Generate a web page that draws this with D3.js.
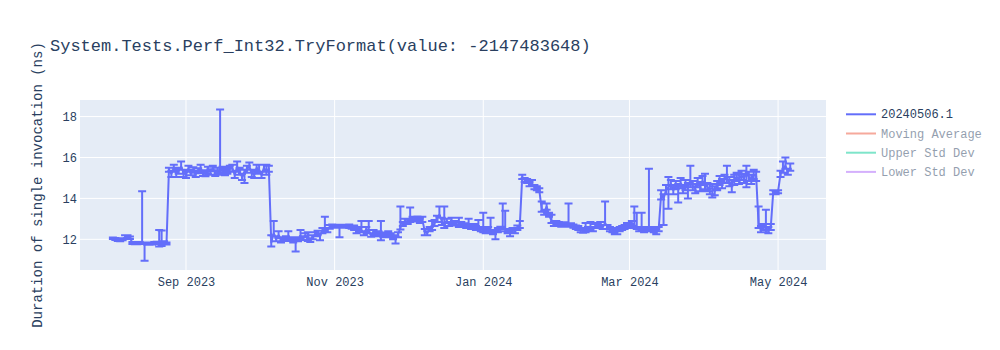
<!DOCTYPE html>
<html>
<head>
<meta charset="utf-8">
<script src="https://cdn.jsdelivr.net/npm/d3@7"></script>
<style>
body{margin:0;background:#fff}
svg{display:block}
text{font-family:"Liberation Mono","Courier New",monospace}
</style>
</head>
<body>
<svg id="chart" width="1000" height="350"></svg>
<script>
// ---------------- data ----------------
const chartTitle = "System.Tests.Perf_Int32.TryFormat(value: -2147483648)";
const yAxisTitle = "Duration of single invocation (ns)";

const dates = [
"2023-08-02","2023-08-03","2023-08-04","2023-08-05","2023-08-06","2023-08-07","2023-08-08","2023-08-09","2023-08-10","2023-08-11","2023-08-12","2023-08-13","2023-08-14","2023-08-15","2023-08-16","2023-08-17","2023-08-18","2023-08-19","2023-08-20","2023-08-21","2023-08-22","2023-08-23","2023-08-24","2023-08-25","2023-08-26","2023-08-27","2023-08-28","2023-08-29","2023-08-30","2023-08-31",
"2023-09-01","2023-09-02","2023-09-03","2023-09-04","2023-09-05","2023-09-06","2023-09-07","2023-09-08","2023-09-09","2023-09-10","2023-09-11","2023-09-12","2023-09-13","2023-09-14","2023-09-15","2023-09-16","2023-09-17","2023-09-18","2023-09-19","2023-09-20","2023-09-21","2023-09-22","2023-09-23","2023-09-24","2023-09-25","2023-09-26","2023-09-27","2023-09-28","2023-09-29","2023-09-30",
"2023-10-01","2023-10-02","2023-10-03","2023-10-04","2023-10-05","2023-10-06","2023-10-07","2023-10-08","2023-10-09","2023-10-10","2023-10-11","2023-10-12","2023-10-13","2023-10-14","2023-10-15","2023-10-16","2023-10-17","2023-10-18","2023-10-19","2023-10-20","2023-10-21","2023-10-22","2023-10-23","2023-10-24","2023-10-25","2023-10-26","2023-10-27","2023-10-28","2023-10-29","2023-10-30","2023-10-31",
"2023-11-01","2023-11-02","2023-11-03","2023-11-04","2023-11-05","2023-11-06","2023-11-07","2023-11-08","2023-11-09","2023-11-10","2023-11-11","2023-11-12","2023-11-13","2023-11-14","2023-11-15","2023-11-16","2023-11-17","2023-11-18","2023-11-19","2023-11-20","2023-11-21","2023-11-22","2023-11-23","2023-11-24","2023-11-25","2023-11-26","2023-11-27","2023-11-28","2023-11-29","2023-11-30",
"2023-12-01","2023-12-02","2023-12-03","2023-12-04","2023-12-05","2023-12-06","2023-12-07","2023-12-08","2023-12-09","2023-12-10","2023-12-11","2023-12-12","2023-12-13","2023-12-14","2023-12-15","2023-12-16","2023-12-17","2023-12-18","2023-12-19","2023-12-20","2023-12-21","2023-12-22","2023-12-23","2023-12-24","2023-12-25","2023-12-26","2023-12-27","2023-12-28","2023-12-29","2023-12-30","2023-12-31",
"2024-01-01","2024-01-02","2024-01-03","2024-01-04","2024-01-05","2024-01-06","2024-01-07","2024-01-08","2024-01-09","2024-01-10","2024-01-11","2024-01-12","2024-01-13","2024-01-14","2024-01-15","2024-01-16","2024-01-17","2024-01-18","2024-01-19","2024-01-20","2024-01-21","2024-01-22","2024-01-23","2024-01-24","2024-01-25","2024-01-26","2024-01-27","2024-01-28","2024-01-29","2024-01-30","2024-01-31",
"2024-02-01","2024-02-02","2024-02-03","2024-02-04","2024-02-05","2024-02-06","2024-02-07","2024-02-08","2024-02-09","2024-02-10","2024-02-11","2024-02-12","2024-02-13","2024-02-14","2024-02-15","2024-02-16","2024-02-17","2024-02-18","2024-02-19","2024-02-20","2024-02-21","2024-02-22","2024-02-23","2024-02-24","2024-02-25","2024-02-26","2024-02-27","2024-02-28","2024-02-29",
"2024-03-01","2024-03-02","2024-03-03","2024-03-04","2024-03-05","2024-03-06","2024-03-07","2024-03-08","2024-03-09","2024-03-10","2024-03-11","2024-03-12","2024-03-13","2024-03-14","2024-03-15","2024-03-16","2024-03-17","2024-03-18","2024-03-19","2024-03-20","2024-03-21","2024-03-22","2024-03-23","2024-03-24","2024-03-25","2024-03-26","2024-03-27","2024-03-28","2024-03-29","2024-03-30","2024-03-31",
"2024-04-01","2024-04-02","2024-04-03","2024-04-04","2024-04-05","2024-04-06","2024-04-07","2024-04-08","2024-04-09","2024-04-10","2024-04-11","2024-04-12","2024-04-13","2024-04-14","2024-04-15","2024-04-16","2024-04-17","2024-04-18","2024-04-19","2024-04-20","2024-04-21","2024-04-22","2024-04-23","2024-04-24","2024-04-25","2024-04-26","2024-04-27","2024-04-28","2024-04-29","2024-04-30",
"2024-05-01","2024-05-02","2024-05-03","2024-05-04","2024-05-05","2024-05-06"
];

const durations = [
12.05,12.02,11.97,11.95,12.00,12.10,12.12,12.08,11.82,11.80,11.80,11.82,11.85,11.75,11.80,11.78,11.80,11.82,11.82,11.85,11.85,11.85,11.80,15.40,15.20,15.45,15.25,15.35,15.55,15.25,
15.15,15.45,15.25,15.40,15.20,15.35,15.45,15.25,15.20,15.40,15.30,15.45,15.25,15.35,15.30,15.40,15.25,15.35,15.45,15.50,15.15,15.55,15.30,15.05,15.20,15.45,15.55,15.25,15.15,15.50,
15.35,15.15,15.50,15.30,15.45,11.85,12.30,12.00,12.20,11.95,12.00,12.05,12.10,12.00,11.95,11.90,12.00,12.15,12.05,12.20,12.00,11.95,12.10,12.25,12.30,12.20,12.40,12.50,12.45,12.60,12.65,
12.65,12.62,12.60,12.65,12.62,12.62,12.65,12.60,12.60,12.40,12.50,12.45,12.30,12.50,12.40,12.20,12.35,12.25,12.30,12.40,12.20,12.25,12.30,12.20,12.10,12.05,12.20,12.60,12.75,12.90,
12.85,12.95,13.00,12.95,13.00,12.90,12.95,12.40,12.30,12.50,12.55,12.80,13.00,13.20,12.90,12.70,12.90,12.75,12.85,12.80,12.75,12.70,12.75,12.70,12.65,12.70,12.60,12.65,12.55,12.60,12.50,
12.45,12.40,12.50,12.45,12.35,12.30,12.45,12.50,12.60,12.50,12.40,12.35,12.45,12.40,12.55,12.70,15.05,14.90,14.85,14.70,14.75,14.55,14.50,14.40,13.45,13.30,13.60,13.20,12.90,12.75,12.80,
12.75,12.70,12.75,12.70,12.70,12.70,12.65,12.60,12.55,12.45,12.40,12.45,12.50,12.55,12.50,12.65,12.70,12.75,12.60,12.80,12.60,12.50,12.45,12.40,12.35,12.50,12.55,12.60,12.70,
12.65,12.75,12.70,12.60,12.50,12.55,12.45,12.50,12.55,12.50,12.45,12.40,12.50,14.20,14.00,14.40,14.55,14.70,14.40,14.65,14.50,14.75,14.45,14.65,14.55,14.80,14.60,14.50,14.75,14.60,14.85,
14.70,14.55,14.45,14.50,14.35,14.65,14.85,14.75,14.95,15.00,14.80,14.70,14.90,15.05,14.95,15.10,15.00,15.20,15.05,14.95,15.15,15.10,12.70,12.50,12.60,12.55,12.45,12.60,14.30,14.30,
14.35,15.20,15.40,15.60,15.30,15.50
];

const errorPlus = [
0.04,0.05,0.04,0.05,0.05,0.10,0.08,0.06,0.05,0.04,0.05,0.05,2.50,0.06,0.05,0.04,0.05,0.05,0.06,0.60,0.58,0.06,0.05,0.10,0.15,0.20,0.15,0.15,0.25,0.15,
0.15,0.15,0.15,0.12,0.15,0.12,0.20,0.12,0.15,0.15,0.12,0.15,0.12,0.15,3.05,0.15,0.15,0.15,0.15,0.15,0.15,0.25,0.20,0.15,0.20,0.15,0.20,0.15,0.15,0.15,
0.30,0.15,0.15,0.35,0.15,0.35,0.60,0.15,0.20,0.10,0.10,0.10,0.30,0.10,0.08,0.10,0.10,0.30,0.10,0.10,0.35,0.10,0.10,0.10,0.12,0.10,0.15,0.60,0.10,0.10,0.08,
0.06,0.06,0.08,0.06,0.06,0.06,0.08,0.06,0.08,0.10,0.10,0.45,0.10,0.10,0.50,0.10,0.10,0.10,0.10,0.50,0.10,0.08,0.10,0.10,0.10,0.10,0.15,1.00,0.10,0.10,
0.12,0.60,0.10,0.10,0.12,0.10,0.15,0.10,0.10,0.10,0.35,0.15,0.15,0.40,0.15,0.90,0.10,0.10,0.20,0.10,0.10,0.35,0.10,0.08,0.10,0.30,0.10,0.10,0.10,0.35,0.10,
0.85,0.10,0.10,0.60,0.10,0.10,0.10,0.12,1.15,0.90,0.10,0.10,0.10,0.10,0.12,0.20,0.10,0.10,0.10,0.10,0.15,0.10,0.10,0.10,0.40,0.10,0.15,0.10,0.30,0.10,0.10,
0.10,0.08,0.08,0.08,1.05,0.08,0.08,0.08,0.10,0.10,0.10,0.35,0.10,0.30,0.10,0.10,0.10,0.10,0.10,1.05,0.10,0.10,0.10,0.10,0.10,0.10,0.10,0.10,0.10,
0.10,0.15,0.90,0.70,0.10,0.75,0.10,0.10,2.90,0.10,0.10,0.10,0.10,0.20,0.20,0.25,0.50,0.20,0.25,0.20,0.20,0.25,0.20,0.25,0.20,0.80,0.25,0.20,0.25,0.20,0.25,
0.50,0.20,0.25,0.20,0.25,0.20,0.25,0.20,0.20,0.60,0.25,0.20,0.25,0.20,0.20,0.25,0.20,0.40,0.25,0.20,0.25,0.20,0.90,0.15,0.15,0.90,0.15,0.15,0.10,0.05,
0.05,0.15,0.40,0.40,0.15,0.20
];

const errorMinus = [
0.04,0.05,0.05,0.04,0.05,0.06,0.05,0.06,0.05,0.04,0.04,0.05,0.05,0.80,0.05,0.04,0.05,0.04,0.05,0.20,0.18,0.05,0.05,0.10,0.15,0.15,0.20,0.15,0.15,0.20,
0.15,0.15,0.12,0.15,0.15,0.12,0.15,0.15,0.12,0.20,0.15,0.12,0.15,0.15,0.15,0.15,0.12,0.15,0.15,0.20,0.15,0.20,0.15,0.15,0.45,0.20,0.15,0.20,0.15,0.15,
0.15,0.15,0.20,0.15,0.15,0.20,0.15,0.10,0.15,0.10,0.08,0.10,0.10,0.08,0.10,0.50,0.10,0.10,0.08,0.10,0.08,0.08,0.10,0.10,0.10,0.25,0.10,0.10,0.10,0.08,0.08,
0.06,0.06,0.50,0.06,0.05,0.06,0.10,0.08,0.15,0.10,0.10,0.10,0.10,0.10,0.10,0.08,0.10,0.10,0.08,0.45,0.10,0.10,0.10,0.10,0.10,0.25,0.10,0.12,0.10,0.10,
0.10,0.10,0.10,0.08,0.10,0.10,0.10,0.20,0.10,0.10,0.10,0.15,0.15,0.15,0.20,0.15,0.10,0.10,0.10,0.10,0.08,0.10,0.08,0.10,0.10,0.10,0.10,0.10,0.10,0.10,0.10,
0.10,0.10,0.10,0.10,0.10,0.30,0.10,0.10,0.10,0.10,0.10,0.20,0.10,0.10,0.10,0.15,0.10,0.10,0.10,0.10,0.10,0.10,0.10,0.10,0.10,0.10,0.15,0.10,0.10,0.10,0.10,
0.08,0.08,0.08,0.08,0.08,0.08,0.08,0.10,0.10,0.10,0.08,0.10,0.10,0.10,0.10,0.10,0.10,0.10,0.10,0.10,0.10,0.10,0.10,0.15,0.10,0.10,0.10,0.10,0.10,
0.10,0.10,0.10,0.10,0.10,0.10,0.10,0.10,0.10,0.10,0.10,0.15,0.10,0.25,1.30,0.20,1.05,0.25,0.20,0.20,0.70,0.25,0.20,0.25,0.55,0.25,0.20,0.25,0.20,0.25,0.20,
0.25,0.20,0.25,0.45,0.20,0.25,0.20,0.25,0.20,0.25,0.20,0.40,0.25,0.20,0.25,0.20,0.25,0.65,0.20,0.25,0.20,0.25,0.15,0.15,0.15,0.20,0.15,0.15,0.10,0.10,
0.10,0.15,0.15,0.15,0.15,0.15
];

const yTickValues = [12, 14, 16, 18];
const xDomain = ["2023-07-19T12:00:00", "2024-05-20T16:00:00"];
const yDomain = [10.5, 18.81];

const legendNames = ["20240506.1", "Moving Average", "Upper Std Dev", "Lower Std Dev"];
const legendColors = ["#636efa", "#EF553B", "#00cc96", "#ab63fa"];
const legendShown = [true, false, false, false];

// ---------------- drawing ----------------
const L = 80, T = 100, R = 826, B = 270;
const fontColor = "#2a3f5f";
const parse = d3.timeParse("%Y-%m-%d");

const points = dates.map((d, i) => ({
  date: parse(d), v: durations[i], p: errorPlus[i], m: errorMinus[i]
}));

const x = d3.scaleTime().domain(xDomain.map(s => new Date(s))).range([L, R]);
const y = d3.scaleLinear().domain(yDomain).range([B, T]);

const svg = d3.select("#chart");

svg.append("rect").attr("x", L).attr("y", T).attr("width", R - L).attr("height", B - T)
  .attr("fill", "#E5ECF6");

const xTicks = x.ticks(d3.timeMonth.every(2));

const grid = svg.append("g");
grid.selectAll("line.xg").data(xTicks).join("line").attr("class", "xg")
  .attr("x1", d => x(d)).attr("x2", d => x(d)).attr("y1", T).attr("y2", B)
  .attr("stroke", "#fff").attr("stroke-width", 1);
grid.selectAll("line.yg").data(yTickValues).join("line").attr("class", "yg")
  .attr("x1", L).attr("x2", R).attr("y1", d => y(d)).attr("y2", d => y(d))
  .attr("stroke", "#fff").attr("stroke-width", 1);

const xAxis = svg.append("g").attr("transform", `translate(0,${B})`)
  .call(d3.axisBottom(x).tickValues(xTicks).tickFormat(d3.timeFormat("%b %Y")).tickSize(0).tickPadding(7));
const yAxis = svg.append("g").attr("transform", `translate(${L},0)`)
  .call(d3.axisLeft(y).tickValues(yTickValues).tickFormat(d3.format("d")).tickSize(0).tickPadding(3));
[xAxis, yAxis].forEach(a => {
  a.select(".domain").remove();
  a.selectAll("text").attr("fill", fontColor).style("font-size", "12px")
    .style("font-family", '"Liberation Mono","Courier New",monospace');
});

// clip
svg.append("clipPath").attr("id", "plotclip").append("rect")
  .attr("x", L).attr("y", T).attr("width", R - L).attr("height", B - T);

const series = svg.append("g").attr("clip-path", "url(#plotclip)");
const color = legendColors[0];

const line = d3.line().x(d => x(d.date)).y(d => y(d.v));
series.append("path").datum(points).attr("d", line)
  .attr("fill", "none").attr("stroke", color).attr("stroke-width", 2).attr("stroke-linejoin", "round");

const capW = 4;
series.append("path")
  .attr("d", points.map(d => {
    const cx = x(d.date), yt = y(d.v + d.p), yb = y(d.v - d.m);
    return `M${cx - capW},${yt}h${2 * capW}M${cx},${yt}V${yb}M${cx - capW},${yb}h${2 * capW}`;
  }).join(""))
  .attr("fill", "none").attr("stroke", color).attr("stroke-width", 2);

// title
svg.append("text").attr("x", 50).attr("y", 51).attr("fill", fontColor)
  .style("font-size", "17px").text(chartTitle);

// y axis title
svg.append("text").attr("transform", "translate(42,185) rotate(-90)")
  .attr("text-anchor", "middle").attr("fill", fontColor).style("font-size", "14px")
  .text(yAxisTitle);

// legend
const lg = svg.append("g");
const items = lg.selectAll("g").data(legendNames).join("g")
  .attr("transform", (d, i) => `translate(846,${114.3 + i * 19.2})`)
  .attr("opacity", (d, i) => legendShown[i] ? 1 : 0.5);
items.append("line").attr("x1", 0).attr("x2", 30).attr("y1", 0).attr("y2", 0)
  .attr("stroke", (d, i) => legendColors[i]).attr("stroke-width", 2);
items.append("text").attr("x", 35).attr("y", 4).attr("fill", fontColor)
  .style("font-size", "12px").text(d => d);
</script>
</body>
</html>
